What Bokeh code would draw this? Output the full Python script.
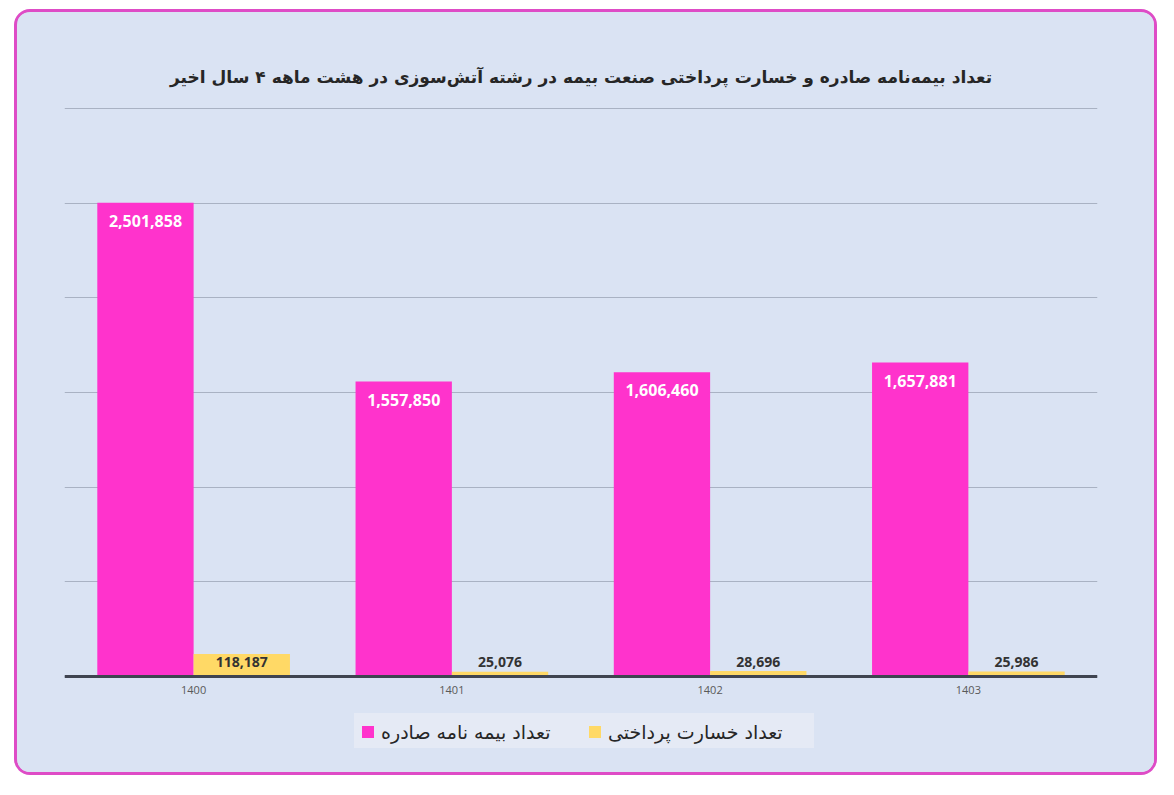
from bokeh.plotting import figure
from bokeh.models import (ColumnDataSource, FactorRange, Range1d, Legend, LegendItem,
                          SingleIntervalTicker, Title)
from bokeh.transform import dodge
from bokeh.core.properties import value
from bokeh.embed import file_html
from bokeh.resources import INLINE

# ---- data ----
years = ["1400", "1401", "1402", "1403"]
policies = [2501858, 1557850, 1606460, 1657881]
claims = [118187, 25076, 28696, 25986]
policy_name = "تعداد بیمه نامه صادره"
claim_name = "تعداد خسارت پرداختی"
title_text = "تعداد بیمه‌نامه صادره و خسارت پرداختی صنعت بیمه در رشته آتش‌سوزی در هشت ماهه ۴ سال اخیر"

BG = "#dae3f3"
PINK = "#ff33cc"
YELLOW = "#ffd966"
LEGEND_BG = "#e5eaf5"

GRID_TOP = 3000000
PX_PER_UNIT = 568 / GRID_TOP          # 568 px between baseline and the top gridline
Y_MAX = GRID_TOP + 3 / PX_PER_UNIT     # a little headroom so the top gridline shows
Y_MIN = -72 / PX_PER_UNIT              # room below baseline for the legend

src = ColumnDataSource(dict(
    year=years,
    policies=policies,
    claims=claims,
    policies_lbl=[f"{v:,}" for v in policies],
    claims_lbl=[f"{v:,}" for v in claims],
    zero=[0] * len(years),
))

p = figure(x_range=FactorRange(*years, range_padding=0), y_range=Range1d(Y_MIN, Y_MAX),
           width=1143, height=766, output_backend="svg", toolbar_location=None,
           background_fill_color=BG, border_fill_color=BG, outline_line_color=None,
           min_border_left=47, min_border_right=63, min_border_top=93, min_border_bottom=30)

p.styles = {"margin-left": "14px", "margin-top": "9px", "border": "3px solid #de4cc6",
            "border-radius": "16px", "overflow": "hidden", "background-color": BG}

bw = 0.373
r1 = p.vbar(x=dodge("year", -bw / 2, range=p.x_range), top="policies", width=bw,
            source=src, fill_color=PINK, line_color=None)
r2 = p.vbar(x=dodge("year", bw / 2, range=p.x_range), top="claims", width=bw,
            source=src, fill_color=YELLOW, line_color=None)

p.text(x=dodge("year", -bw / 2, range=p.x_range), y="policies", text="policies_lbl", source=src,
       text_align="center", text_baseline="middle", y_offset=18,
       text_font=value("Open Sans"), text_font_style="bold", text_font_size="16px",
       text_color="white")
p.text(x=dodge("year", bw / 2, range=p.x_range), y="zero", text="claims_lbl", source=src,
       text_align="center", text_baseline="middle", y_offset=-15,
       text_font=value("Open Sans"), text_font_style="bold", text_font_size="14px",
       text_color="#333333")

# axes / grid
p.yaxis.visible = False
tick = SingleIntervalTicker(interval=500000)
p.yaxis.ticker = tick
p.ygrid.ticker = tick
p.ygrid.grid_line_color = "#a9b2c3"
p.ygrid.grid_line_width = 1
p.xgrid.grid_line_color = None

xa = p.xaxis[0]
xa.fixed_location = 0
xa.axis_line_color = "#3f4450"
xa.axis_line_width = 3
xa.major_tick_line_color = None
xa.minor_tick_line_color = None
xa.major_tick_out = 0
xa.major_tick_in = 0
xa.major_label_standoff = 9
xa.major_label_text_font = "Open Sans"
xa.major_label_text_font_size = "11px"
xa.major_label_text_color = "#595959"

# title
t = Title(text=title_text, align="center", text_font="DejaVu Sans", text_font_style="bold",
          text_font_size="17px", text_color="#262626", standoff=38)
p.add_layout(t, "above")

# legend below the baseline
legend = Legend(items=[LegendItem(label=policy_name, renderers=[r1]),
                       LegendItem(label=claim_name, renderers=[r2])],
                orientation="horizontal", location=(290, -2),
                background_fill_color=LEGEND_BG, background_fill_alpha=1,
                border_line_color=LEGEND_BG, border_line_width=6,
                padding=0, spacing=6,
                glyph_width=15, glyph_height=15, label_standoff=6,
                label_height=25, label_width=200,
                label_text_font="DejaVu Sans", label_text_font_size="19px",
                label_text_color="#262626", margin=0)
p.add_layout(legend, "center")

open("out.html", "w").write(file_html(p, INLINE))
